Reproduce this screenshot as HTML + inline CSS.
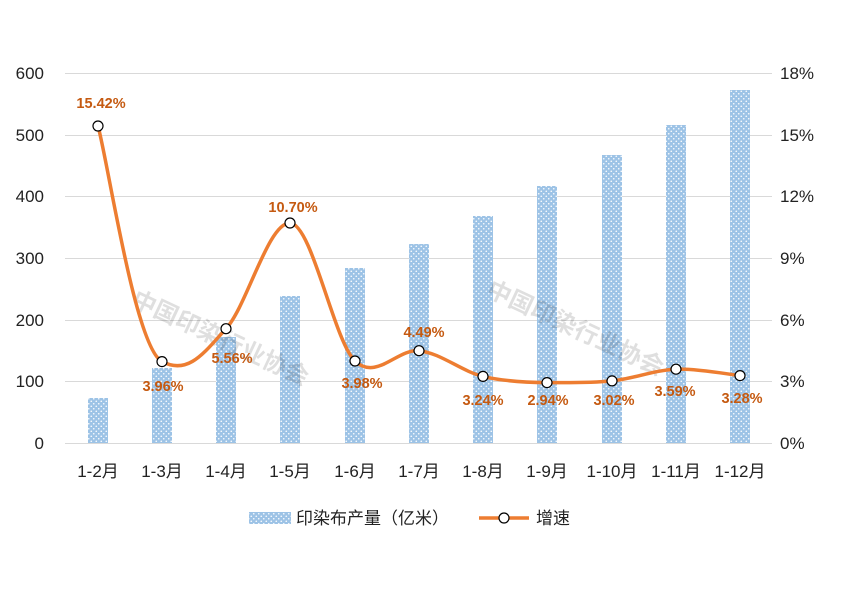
<!DOCTYPE html>
<html><head><meta charset="utf-8"><style>
html,body{margin:0;padding:0;background:#fff;}
svg{display:block;font-family:"Liberation Sans","Noto Sans CJK SC",sans-serif;}
</style></head><body>
<svg width="842" height="600" viewBox="0 0 842 600" xmlns="http://www.w3.org/2000/svg">
<defs>
<pattern id="dots" width="5" height="5" patternUnits="userSpaceOnUse">
<rect width="5" height="5" fill="#9dc3e6"/>
<circle cx="1.25" cy="1.25" r="0.8" fill="#fff"/>
<circle cx="3.75" cy="3.75" r="0.8" fill="#fff"/>
</pattern>
</defs>
<g stroke="#d9d9d9" stroke-width="1">
<line x1="65" x2="772" y1="73.5" y2="73.5"/>
<line x1="65" x2="772" y1="135.5" y2="135.5"/>
<line x1="65" x2="772" y1="196.5" y2="196.5"/>
<line x1="65" x2="772" y1="258.5" y2="258.5"/>
<line x1="65" x2="772" y1="320.5" y2="320.5"/>
<line x1="65" x2="772" y1="381.5" y2="381.5"/>
<line x1="65" x2="772" y1="443.5" y2="443.5"/>
</g>
<g font-size="17" fill="#222" text-anchor="end">
<text x="44" y="79">600</text><text x="44" y="141">500</text><text x="44" y="202">400</text>
<text x="44" y="264">300</text><text x="44" y="326">200</text><text x="44" y="387">100</text><text x="44" y="449">0</text>
</g>
<g font-size="17" fill="#222">
<text x="780" y="79">18%</text><text x="780" y="141">15%</text><text x="780" y="202">12%</text>
<text x="780" y="264">9%</text><text x="780" y="326">6%</text><text x="780" y="387">3%</text><text x="780" y="449">0%</text>
</g>
<g fill="url(#dots)">
<rect x="88" y="398" width="20" height="45"/>
<rect x="152" y="368" width="20" height="75"/>
<rect x="216" y="337" width="20" height="106"/>
<rect x="280" y="296" width="20" height="147"/>
<rect x="345" y="268" width="20" height="175"/>
<rect x="409" y="244" width="20" height="199"/>
<rect x="473" y="216" width="20" height="227"/>
<rect x="537" y="186" width="20" height="257"/>
<rect x="602" y="155" width="20" height="288"/>
<rect x="666" y="125" width="20" height="318"/>
<rect x="730" y="90" width="20" height="353"/>
</g>
<g font-size="24" font-weight="bold" fill="#000" opacity="0.12">
<text transform="translate(130,305) rotate(25)">中国印染行业协会</text>
<text transform="translate(485,295) rotate(25)">中国印染行业协会</text>
</g>
<g font-size="17" fill="#222" text-anchor="middle">
<text x="98" y="477">1-2月</text><text x="162" y="477">1-3月</text><text x="226" y="477">1-4月</text>
<text x="290" y="477">1-5月</text><text x="355" y="477">1-6月</text><text x="419" y="477">1-7月</text>
<text x="483" y="477">1-8月</text><text x="547" y="477">1-9月</text><text x="612" y="477">1-10月</text>
<text x="676" y="477">1-11月</text><text x="740" y="477">1-12月</text>
</g>
<path fill="none" stroke="#ed7d31" stroke-width="3.5" stroke-linejoin="round" d="M98,126 C108.7,165.3 135.3,347.6 162,361.6 C188.7,375.6 204.8,351.8 226,328.7 C247.2,305.6 268.1,222.5 290,223 C311.9,223.5 333.7,340.8 355,361 C376.3,381.2 397.5,348.5 419,350.7 C440.5,352.9 461.7,371.4 483,376.4 C504.3,381.4 525.6,382.5 547,382.6 C568.4,382.7 590.2,383.1 612,380.9 C633.8,378.7 654.6,370 676,369.2 C697.4,368.4 729.3,374.5 740,375.6"/>
<g fill="#fff" stroke="#000" stroke-width="1.2">
<circle cx="98" cy="126" r="5"/><circle cx="162" cy="361.6" r="5"/><circle cx="226" cy="328.7" r="5"/>
<circle cx="290" cy="223" r="5"/><circle cx="355" cy="361" r="5"/><circle cx="419" cy="350.7" r="5"/>
<circle cx="483" cy="376.4" r="5"/><circle cx="547" cy="382.6" r="5"/><circle cx="612" cy="380.9" r="5"/>
<circle cx="676" cy="369.2" r="5"/><circle cx="740" cy="375.6" r="5"/>
</g>
<g font-size="14.5" font-weight="bold" fill="#c55a11" text-anchor="middle">
<text x="101" y="108">15.42%</text><text x="163" y="391">3.96%</text><text x="232" y="363">5.56%</text>
<text x="293" y="212">10.70%</text><text x="362" y="388">3.98%</text><text x="424" y="337">4.49%</text>
<text x="483" y="405">3.24%</text><text x="548" y="405">2.94%</text><text x="614" y="405">3.02%</text>
<text x="675" y="396">3.59%</text><text x="742" y="403">3.28%</text>
</g>
<rect x="249" y="512" width="42" height="12" fill="url(#dots)"/>
<text x="296" y="524" font-size="17" fill="#222">印染布产量（亿米）</text>
<line x1="479" x2="529" y1="518" y2="518" stroke="#ed7d31" stroke-width="3.5"/>
<circle cx="504" cy="518" r="5" fill="#fff" stroke="#000" stroke-width="1.2"/>
<text x="536" y="524" font-size="17" fill="#222">增速</text>
</svg>
</body></html>
